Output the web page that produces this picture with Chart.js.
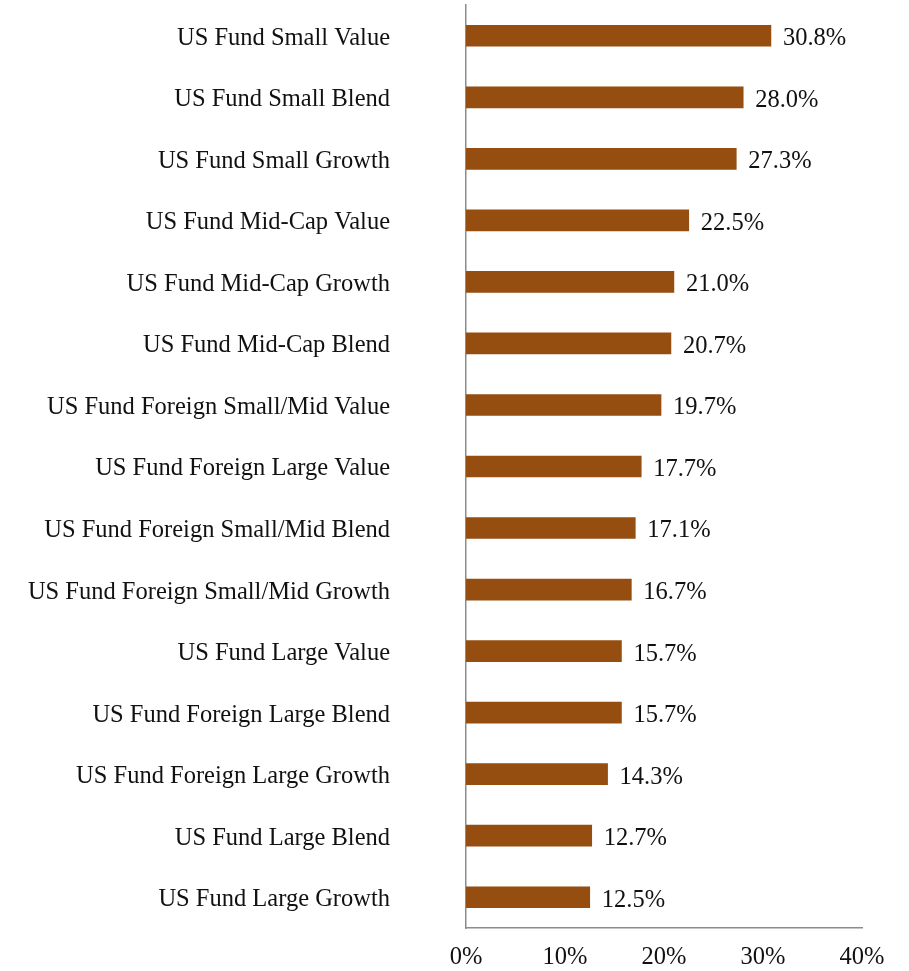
<!DOCTYPE html>
<html>
<head>
<meta charset="utf-8">
<script src="https://cdn.jsdelivr.net/npm/chart.js@4/dist/chart.umd.min.js"></script>
<style>
  html, body { margin: 0; padding: 0; background: #ffffff; overflow: hidden; }
  canvas { display: block; }
</style>
</head>
<body>
<canvas id="chart" width="909" height="971" style="width:909px;height:971px"></canvas>
<script>
// Fund categories, top to bottom
const categories = [
  "US Fund Small Value",
  "US Fund Small Blend",
  "US Fund Small Growth",
  "US Fund Mid-Cap Value",
  "US Fund Mid-Cap Growth",
  "US Fund Mid-Cap Blend",
  "US Fund Foreign Small/Mid Value",
  "US Fund Foreign Large Value",
  "US Fund Foreign Small/Mid Blend",
  "US Fund Foreign Small/Mid Growth",
  "US Fund Large Value",
  "US Fund Foreign Large Blend",
  "US Fund Foreign Large Growth",
  "US Fund Large Blend",
  "US Fund Large Growth"
];

// Percentage values per category
const values = [30.8, 28.0, 27.3, 22.5, 21.0, 20.7, 19.7, 17.7, 17.1, 16.7, 15.7, 15.7, 14.3, 12.7, 12.5];

// Axis tick values (percent)
const xTicks = [0, 10, 20, 30, 40];

const FONT_FAMILY = "'Liberation Serif', 'Times New Roman', serif";
const FONT_SIZE = 24.5;
const TEXT_COLOR = "#111111";
const BAR_COLOR = "#954d10";
const AXIS_COLOR = "#8c8c8c";

// Draws the value text just past the end of each bar
const valueLabels = {
  id: "valueLabels",
  afterDatasetsDraw(chart) {
    const ctx = chart.ctx;
    const meta = chart.getDatasetMeta(0);
    ctx.save();
    ctx.font = FONT_SIZE + "px " + FONT_FAMILY;
    ctx.fillStyle = TEXT_COLOR;
    ctx.textAlign = "left";
    ctx.textBaseline = "middle";
    meta.data.forEach((bar, i) => {
      const v = chart.data.datasets[0].data[i];
      ctx.fillText(v.toFixed(1) + "%", bar.x + 12, bar.y + 3);
    });
    ctx.restore();
  }
};

new Chart(document.getElementById("chart"), {
  type: "bar",
  data: {
    labels: categories,
    datasets: [{
      data: values,
      backgroundColor: BAR_COLOR,
      borderWidth: 0,
      barThickness: 21
    }]
  },
  options: {
    indexAxis: "y",
    responsive: false,
    animation: false,
    devicePixelRatio: 1,
    layout: { padding: { top: 5, right: 47, left: 0, bottom: 0 } },
    plugins: {
      legend: { display: false },
      tooltip: { enabled: false }
    },
    scales: {
      x: {
        min: 0,
        max: 40,
        afterBuildTicks(scale) {
          scale.ticks = xTicks.map(v => ({ value: v }));
        },
        afterFit(scale) { scale.height = 43; },
        grid: { display: false, drawTicks: false },
        border: { display: true, color: AXIS_COLOR, width: 1.5 },
        ticks: {
          padding: 15,
          color: TEXT_COLOR,
          font: { family: FONT_FAMILY, size: FONT_SIZE },
          callback: v => v + "%"
        }
      },
      y: {
        afterFit(scale) {
          scale.width = 466;
          scale.paddingTop = 0;
          scale.paddingBottom = 0;
        },
        grid: { display: false, drawTicks: false },
        border: { display: true, color: AXIS_COLOR, width: 1.5 },
        ticks: {
          padding: 76,
          labelOffset: 2.5,
          color: TEXT_COLOR,
          font: { family: FONT_FAMILY, size: FONT_SIZE },
          autoSkip: false
        }
      }
    }
  },
  plugins: [valueLabels]
});
</script>
</body>
</html>
